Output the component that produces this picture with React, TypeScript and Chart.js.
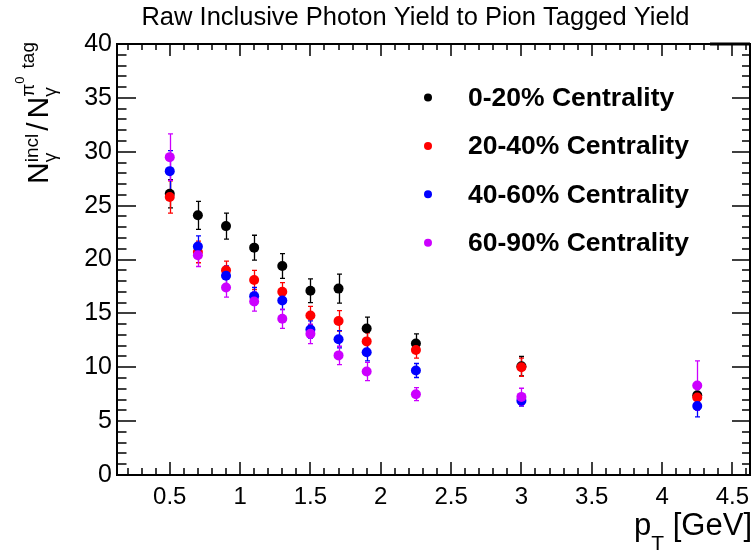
import React, { useEffect, useRef } from "react";
import { Chart, registerables } from "chart.js";

Chart.register(...registerables);

// ---- data ----
const ptValues = [0.5, 0.7, 0.9, 1.1, 1.3, 1.5, 1.7, 1.9, 2.25, 3.0, 4.25];

const seriesLabels = ["0-20% Centrality", "20-40% Centrality", "40-60% Centrality", "60-90% Centrality"];
const seriesColors = ["#000000", "#ff0000", "#0000ff", "#cc00ff"];

const cent0to20 = [26.1, 24.1, 23.1, 21.1, 19.4, 17.1, 17.3, 13.6, 12.2, 10.1, 7.4];
const cent0to20Err = [1.3, 1.3, 1.2, 1.15, 1.15, 1.1, 1.35, 1.05, 0.9, 0.9, 0.6];
const cent20to40 = [25.8, 20.7, 19.0, 18.1, 17.0, 14.8, 14.3, 12.4, 11.6, 10.0, 7.2];
const cent20to40Err = [1.5, 1.0, 0.85, 0.9, 0.85, 0.85, 0.95, 0.8, 0.75, 0.85, 0.5];
const cent40to60 = [28.2, 21.2, 18.5, 16.6, 16.2, 13.5, 12.6, 11.4, 9.7, 6.9, 6.4];
const cent40to60Err = [1.9, 1.0, 0.9, 0.8, 0.85, 0.8, 0.8, 0.8, 0.65, 0.5, 1.0];
const cent60to90 = [29.5, 20.4, 17.4, 16.1, 14.5, 13.1, 11.1, 9.6, 7.5, 7.25, 8.3];
const cent60to90Err = [2.15, 1.05, 0.9, 0.9, 0.9, 0.9, 0.85, 0.85, 0.6, 0.8, 2.3];

const xTickValues = [0.5, 1, 1.5, 2, 2.5, 3, 3.5, 4, 4.5];
const yTickValues = [0, 5, 10, 15, 20, 25, 30, 35, 40];
const xRange = [0.125, 4.625];
const yRange = [0, 40];

const chartTitle = "Raw Inclusive Photon Yield to Pion Tagged Yield";

const FONT = "'Liberation Sans', Arial, Helvetica, sans-serif";

const allValues = [cent0to20, cent20to40, cent40to60, cent60to90];
const allErrors = [cent0to20Err, cent20to40Err, cent40to60Err, cent60to90Err];

const rootPlugin = {
  id: "rootStyle",
  beforeDatasetsDraw(chart: any) {
    const { ctx, chartArea: a } = chart;
    const xs = chart.scales.x;
    const ys = chart.scales.y;
    ctx.save();
    ctx.strokeStyle = "#000";
    // minor / major ticks, inward
    ctx.lineWidth = 1.5;
    ctx.beginPath();
    for (let k = 2; k <= 46; k++) {
      const v = k / 10;
      const px = Math.round(xs.getPixelForValue(v));
      const major = k % 5 === 0;
      const lb = major ? 13 : 7;
      const lt = major ? 12 : 6;
      ctx.moveTo(px, a.bottom);
      ctx.lineTo(px, a.bottom - lb);
      ctx.moveTo(px, a.top);
      ctx.lineTo(px, a.top + lt);
    }
    for (let k = 1; k < 40; k++) {
      const py = Math.round(ys.getPixelForValue(k));
      const major = k % 5 === 0;
      const ll = major ? 19 : 9.5;
      const lr = major ? 18 : 8;
      ctx.moveTo(a.left, py);
      ctx.lineTo(a.left + ll, py);
      ctx.moveTo(a.right, py);
      ctx.lineTo(a.right - lr, py);
    }
    ctx.stroke();
    // frame
    ctx.lineWidth = 2;
    ctx.strokeRect(a.left, a.top, a.right - a.left, a.bottom - a.top);
    ctx.lineWidth = 3;
    ctx.beginPath();
    ctx.moveTo(710, a.top);
    ctx.lineTo(a.right, a.top);
    ctx.stroke();

    // error bars
    chart.data.datasets.forEach((ds: any, i: number) => {
      const errs = allErrors[i];
      ctx.strokeStyle = ds.backgroundColor;
      ctx.lineWidth = 1.3;
      ctx.beginPath();
      ds.data.forEach((p: any, j: number) => {
        const px = Math.round(xs.getPixelForValue(p.x)) + 0.5;
        const y1 = ys.getPixelForValue(p.y + errs[j]);
        const y2 = ys.getPixelForValue(p.y - errs[j]);
        ctx.moveTo(px, y1);
        ctx.lineTo(px, y2);
        ctx.moveTo(px - 2.5, y1);
        ctx.lineTo(px + 2.5, y1);
        ctx.moveTo(px - 2.5, y2);
        ctx.lineTo(px + 2.5, y2);
      });
      ctx.stroke();
    });
    ctx.restore();
  },
  afterDraw(chart: any) {
    const { ctx } = chart;
    ctx.save();
    ctx.fillStyle = "#000";
    // title
    ctx.font = `25.5px ${FONT}`;
    ctx.textAlign = "center";
    ctx.textBaseline = "alphabetic";
    ctx.fillText(chartTitle, 415.5, 25);

    // legend
    chart.data.datasets.forEach((ds: any, i: number) => {
      const cy = 97.5 + i * 48.4;
      ctx.fillStyle = ds.backgroundColor;
      ctx.beginPath();
      ctx.arc(428, cy, 4, 0, Math.PI * 2);
      ctx.fill();
      ctx.fillStyle = "#000";
      ctx.font = `bold 26.5px ${FONT}`;
      ctx.textAlign = "left";
      ctx.textBaseline = "middle";
      ctx.fillText(ds.label, 468, cy + 1);
    });

    // x title: p_T [GeV]
    ctx.textBaseline = "alphabetic";
    ctx.textAlign = "left";
    const main = `31px ${FONT}`;
    const sub = `21px ${FONT}`;
    ctx.font = main;
    const wP = ctx.measureText("p").width;
    const wG = ctx.measureText(" [GeV]").width;
    ctx.font = sub;
    const wT = ctx.measureText("T").width;
    const x0 = 752 - (wP + wT + wG);
    ctx.font = main;
    ctx.fillText("p", x0, 535);
    ctx.font = sub;
    ctx.fillText("T", x0 + wP, 550);
    ctx.font = main;
    ctx.fillText(" [GeV]", x0 + wP + wT, 535);

    // y title: N_gamma^incl / N_gamma^{pi^0 tag}
    const fm = `30px ${FONT}`;
    const fs = `19px ${FONT}`;
    const fs2 = `13px ${FONT}`;
    const segs: any[] = [];
    let u = 0;
    ctx.font = fm;
    segs.push({ t: "N", f: fm, u, v: 0 });
    u += ctx.measureText("N").width;
    ctx.font = fs;
    const wg = ctx.measureText("γ").width;
    const wi = ctx.measureText("incl").width;
    segs.push({ t: "γ", f: fs, u, v: 8 });
    segs.push({ t: "incl", f: fs, u, v: -10 });
    u += Math.max(wg, wi) + 3;
    ctx.font = fm;
    segs.push({ t: "/", f: fm, u, v: 0 });
    u += ctx.measureText("/").width + 4;
    segs.push({ t: "N", f: fm, u, v: 0 });
    u += ctx.measureText("N").width;
    ctx.font = fs;
    segs.push({ t: "γ", f: fs, u, v: 8 });
    segs.push({ t: "π", f: fs, u, v: -14 });
    const wpi = ctx.measureText("π").width;
    ctx.font = fs2;
    segs.push({ t: "0", f: fs2, u: u + wpi, v: -24 });
    const w0 = ctx.measureText("0").width;
    ctx.font = fs;
    const tagU = u + wpi + w0 + 8;
    segs.push({ t: "tag", f: fs, u: tagU, v: -14 });
    const total = tagU + ctx.measureText("tag").width;

    ctx.translate(48, 42 + total);
    ctx.rotate(-Math.PI / 2);
    segs.forEach((sg) => {
      ctx.font = sg.f;
      ctx.fillText(sg.t, sg.u, sg.v);
    });
    ctx.restore();
  },
};

export default function App() {
  const canvasRef = useRef<HTMLCanvasElement | null>(null);

  useEffect(() => {
    const canvas = canvasRef.current;
    if (!canvas) return;
    const datasets = allValues.map((vals, i) => ({
      label: seriesLabels[i],
      data: ptValues.map((x, j) => ({ x, y: vals[j] })),
      backgroundColor: seriesColors[i],
      borderColor: seriesColors[i],
      pointRadius: 5,
      pointBorderWidth: 0,
      showLine: false,
      order: 4 - i,
    }));
    const chart = new Chart(canvas, {
      type: "scatter",
      data: { datasets },
      options: {
        animation: false,
        responsive: false,
        maintainAspectRatio: false,
        events: [],
        layout: { padding: { left: 0, right: 4, top: 44, bottom: 0 } },
        plugins: {
          legend: { display: false },
          tooltip: { enabled: false },
          title: { display: false },
        },
        scales: {
          x: {
            type: "linear",
            min: xRange[0],
            max: xRange[1],
            grid: { display: false, drawTicks: false },
            border: { display: false },
            afterBuildTicks: (sc: any) => {
              sc.ticks = xTickValues.map((v) => ({ value: v }));
            },
            afterFit: (sc: any) => {
              sc.height = 77;
              sc.paddingLeft = 0;
              sc.paddingRight = 0;
            },
            ticks: {
              color: "#000",
              font: { family: FONT, size: 24 },
              padding: 8,
              maxRotation: 0,
              autoSkip: false,
              callback: (v: any) => String(v),
            },
          },
          y: {
            type: "linear",
            min: yRange[0],
            max: yRange[1],
            grid: { display: false, drawTicks: false },
            border: { display: false },
            afterBuildTicks: (sc: any) => {
              sc.ticks = yTickValues.map((v) => ({ value: v }));
            },
            afterFit: (sc: any) => {
              sc.width = 117;
              sc.paddingTop = 0;
              sc.paddingBottom = 0;
            },
            ticks: {
              color: "#000",
              font: { family: FONT, size: 25 },
              padding: 5,
              autoSkip: false,
              callback: (v: any) => String(v),
            },
          },
        },
      },
      plugins: [rootPlugin],
    });
    return () => chart.destroy();
  }, []);

  return (
    <div style={{ position: "absolute", left: 0, top: 0, width: 755, height: 552, background: "#fff" }}>
      <canvas ref={canvasRef} width={755} height={552} style={{ display: "block" }} />
    </div>
  );
}
